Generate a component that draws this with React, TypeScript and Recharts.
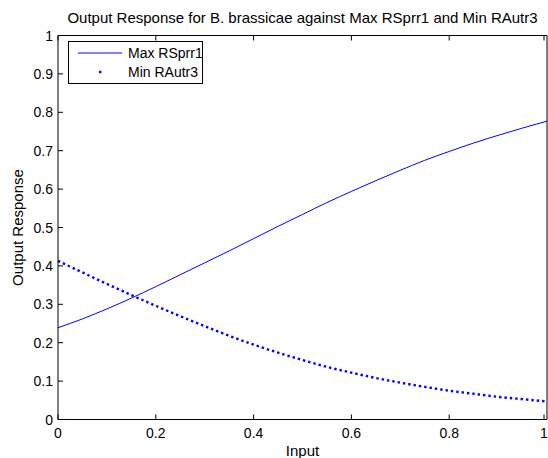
import { LineChart, Line, XAxis, YAxis, Legend } from "recharts";

const FONT = "'Liberation Sans', Arial, Helvetica, sans-serif";
const BLUE = "#0000ff";

const inputs = [
  0, 0.05, 0.1, 0.15, 0.2, 0.25, 0.3, 0.35, 0.4, 0.45, 0.5,
  0.55, 0.6, 0.65, 0.7, 0.75, 0.8, 0.85, 0.9, 0.95, 1,
];
const maxRSprr1 = [
  0.239, 0.262, 0.288, 0.316, 0.346, 0.377, 0.408, 0.439, 0.471, 0.503, 0.534,
  0.565, 0.594, 0.622, 0.649, 0.675, 0.698, 0.72, 0.74, 0.759, 0.777,
];
const minRAutr3 = [
  0.413, 0.383, 0.353, 0.324, 0.296, 0.269, 0.243, 0.218, 0.195, 0.174, 0.155,
  0.137, 0.122, 0.108, 0.096, 0.085, 0.075, 0.067, 0.059, 0.053, 0.047,
];
const xTicks = [0, 0.2, 0.4, 0.6, 0.8, 1];
const yTicks = [0, 0.1, 0.2, 0.3, 0.4, 0.5, 0.6, 0.7, 0.8, 0.9, 1];

const data = inputs.map((x, i) => ({ x, max: maxRSprr1[i], min: minRAutr3[i] }));

const fmt = (v: number) => String(Number(v.toFixed(1)));

// matlab style: ticks point inward, labels outside
const LeftTick = ({ x, y, payload }: any) => (
  <g>
    <line x1={x + 5} x2={x + 10} y1={y} y2={y} stroke="#000" />
    <text x={x} y={y} dy={5} textAnchor="end" fontSize={14} fontFamily={FONT} fill="#000">
      {fmt(payload.value)}
    </text>
  </g>
);
const RightTick = ({ x, y }: any) => <line x1={x - 5} x2={x} y1={y} y2={y} stroke="#000" />;
const BottomTick = ({ x, y, payload }: any) => (
  <g>
    <line x1={x} x2={x} y1={y - 5} y2={y} stroke="#000" />
    <text x={x} y={y} dy={18.5} textAnchor="middle" fontSize={14} fontFamily={FONT} fill="#000">
      {fmt(payload.value)}
    </text>
  </g>
);
const TopTick = ({ x, y }: any) => <line x1={x} x2={x} y1={y} y2={y + 5} stroke="#000" />;

const renderLegend = ({ payload }: any) => (
  <div
    style={{
      position: "relative",
      width: 133,
      height: 41,
      border: "1px solid #000",
      background: "#fff",
      fontFamily: FONT,
      fontSize: 14,
    }}
  >
    {(payload || []).map((entry: any, i: number) => (
      <div key={entry.value} style={{ position: "absolute", left: 0, top: 2 + i * 19, height: 18, width: 133 }}>
        <svg width={56} height={18} style={{ position: "absolute", left: 0, top: 0 }}>
          {i === 0 ? (
            <line x1={9} x2={53} y1={9} y2={9} stroke={BLUE} strokeWidth={1} />
          ) : (
            <rect x={30} y={7.8} width={2.4} height={2.4} fill={BLUE} />
          )}
        </svg>
        <span style={{ position: "absolute", left: 59, top: 1, lineHeight: "16px", whiteSpace: "nowrap" }}>
          {entry.value}
        </span>
      </div>
    ))}
  </div>
);

export default function App() {
  return (
    <div style={{ position: "absolute", left: 0, top: 0, width: 548, height: 458, background: "#fff" }}>
      <div
        style={{
          position: "absolute",
          left: 0,
          width: 605,
          top: 9,
          textAlign: "center",
          fontFamily: FONT,
          fontSize: 15,
          lineHeight: "17px",
          color: "#000",
          whiteSpace: "nowrap",
        }}
      >
        Output Response for B. brassicae against Max RSprr1 and Min RAutr3
      </div>
      <LineChart width={548} height={458} data={data} margin={{ top: 34.5, right: 0, bottom: 0, left: 0 }}>
        <XAxis
          xAxisId="b"
          dataKey="x"
          type="number"
          domain={[0, 1]}
          ticks={xTicks}
          height={38.5}
          tickSize={0}
          tickMargin={0}
          tickLine={false}
          axisLine={{ stroke: "#000" }}
          tick={<BottomTick />}
          label={{
            content: ({ viewBox }: any) => (
              <text
                x={viewBox.x + viewBox.width / 2}
                y={456}
                textAnchor="middle"
                fontSize={15}
                fontFamily={FONT}
                fill="#000"
              >
                Input
              </text>
            ),
          }}
        />
        <XAxis
          xAxisId="t"
          orientation="top"
          dataKey="x"
          type="number"
          domain={[0, 1]}
          ticks={xTicks}
          height={1}
          tickSize={0}
          tickMargin={0}
          tickLine={false}
          axisLine={{ stroke: "#000" }}
          tick={<TopTick />}
        />
        <YAxis
          yAxisId="l"
          type="number"
          domain={[0, 1]}
          ticks={yTicks}
          width={58}
          tickSize={0}
          tickMargin={5}
          tickLine={false}
          axisLine={{ stroke: "#000" }}
          tick={<LeftTick />}
          label={{
            content: ({ viewBox }: any) => {
              const cy = viewBox.y + viewBox.height / 2;
              return (
                <text
                  x={23}
                  y={cy}
                  transform={`rotate(-90 23 ${cy})`}
                  textAnchor="middle"
                  fontSize={15}
                  fontFamily={FONT}
                  fill="#000"
                >
                  Output Response
                </text>
              );
            },
          }}
        />
        <YAxis
          yAxisId="r"
          orientation="right"
          type="number"
          domain={[0, 1]}
          ticks={yTicks}
          width={1}
          tickSize={0}
          tickMargin={0}
          tickLine={false}
          axisLine={{ stroke: "#000" }}
          tick={<RightTick />}
        />
        <Legend
          layout="vertical"
          align="center"
          verticalAlign="middle"
          content={renderLegend}
          wrapperStyle={{ left: 68, top: 40.5, width: 135, height: 43 }}
        />
        <Line
          xAxisId="b"
          yAxisId="l"
          name="Max RSprr1"
          dataKey="max"
          type="monotone"
          stroke={BLUE}
          strokeWidth={1}
          dot={false}
          isAnimationActive={false}
        />
        <Line
          xAxisId="b"
          yAxisId="l"
          name="Min RAutr3"
          dataKey="min"
          type="monotone"
          stroke={BLUE}
          strokeWidth={2.4}
          strokeDasharray="2.4 3"
          dot={false}
          isAnimationActive={false}
        />
      </LineChart>
    </div>
  );
}
